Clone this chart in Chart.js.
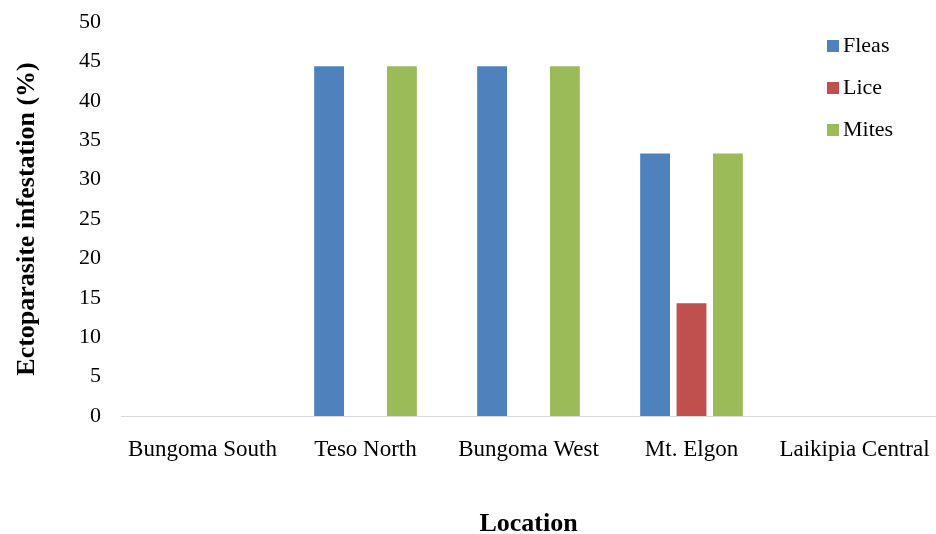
<!DOCTYPE html>
<html>
<head>
<meta charset="utf-8">
<script src="https://cdn.jsdelivr.net/npm/chart.js@4"></script>
<style>
html,body{margin:0;padding:0;background:#fff;}
#wrap{width:936px;height:534px;position:relative;}
</style>
</head>
<body>
<div id="wrap"><canvas id="c" width="936" height="534"></canvas></div>
<script>
const categories = ["Bungoma South", "Teso North", "Bungoma West", "Mt. Elgon", "Laikipia Central"];
const fleas = [0, 44.4, 44.4, 33.3, 0];
const lice = [0, 0, 0, 14.3, 0];
const mites = [0, 44.4, 44.4, 33.3, 0];
const yTicks = [0, 5, 10, 15, 20, 25, 30, 35, 40, 45, 50];

const FONT = "'Liberation Serif', 'Times New Roman', serif";

const legendPlugin = {
  id: 'sideLegend',
  afterDraw(chart) {
    const ctx = chart.ctx;
    ctx.save();
    ctx.font = "22px " + FONT;
    ctx.textBaseline = 'middle';
    ctx.textAlign = 'left';
    chart.data.datasets.forEach((ds, i) => {
      const y = 46 + i * 42;
      ctx.fillStyle = ds.backgroundColor;
      ctx.fillRect(827, y - 6, 12, 12);
      ctx.fillStyle = '#000';
      ctx.fillText(ds.label, 843, y);
    });
    ctx.restore();
  }
};

new Chart(document.getElementById('c'), {
  type: 'bar',
  data: {
    labels: categories,
    datasets: [
      {label: 'Fleas', data: fleas, backgroundColor: '#4F81BD'},
      {label: 'Lice', data: lice, backgroundColor: '#C0504D'},
      {label: 'Mites', data: mites, backgroundColor: '#9BBB59'}
    ]
  },
  options: {
    responsive: false,
    animation: false,
    categoryPercentage: 0.67,
    barPercentage: 0.82,
    layout: {padding: {top: 22, left: 10, right: 0, bottom: 0}},
    plugins: {legend: {display: false}, tooltip: {enabled: false}},
    scales: {
      x: {
        grid: {display: false},
        border: {display: true, color: '#d9d9d9', width: 1},
        ticks: {color: '#000', font: {family: FONT, size: 23}, padding: 12, maxRotation: 0, autoSkip: false},
        title: {display: true, text: 'Location', color: '#000', font: {family: FONT, size: 26, weight: 'bold'}, padding: {top: 0, bottom: -6}},
        afterFit: s => { s.height = 118; s.paddingLeft = 0; s.paddingRight = 0; }
      },
      y: {
        min: 0, max: 50,
        afterBuildTicks: s => { s.ticks = yTicks.map(v => ({value: v})); },
        grid: {display: false, drawTicks: false},
        border: {display: false},
        ticks: {color: '#000', font: {family: FONT, size: 22}, padding: 20},
        title: {display: true, text: 'Ectoparasite infestation (%)', color: '#000', font: {family: FONT, size: 26, weight: 'bold'}, padding: {top: 2, bottom: 0}},
        afterFit: s => { s.width = 111; s.paddingTop = 0; s.paddingBottom = 0; }
      }
    }
  },
  plugins: [legendPlugin]
});
</script>
</body>
</html>
